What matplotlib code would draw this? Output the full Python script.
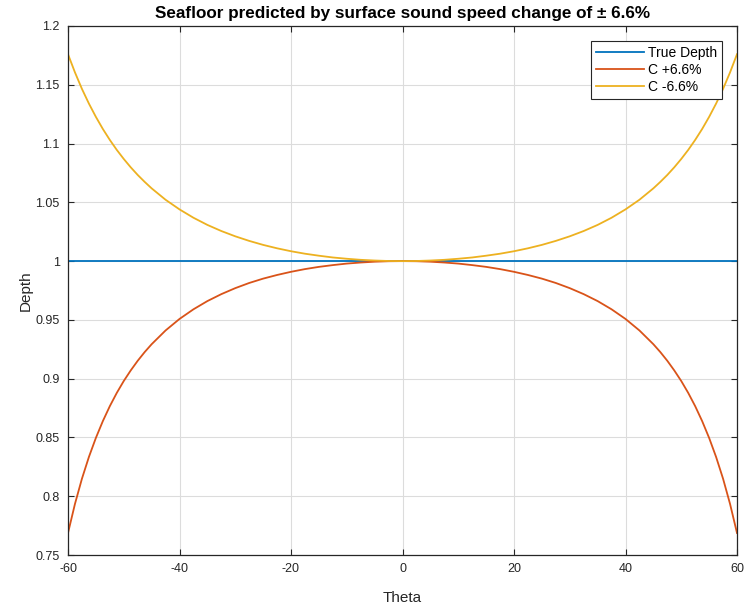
import matplotlib
matplotlib.use("Agg")
import matplotlib.pyplot as plt

# angle grid (deg) and predicted depth ratios
theta = [-60, -58.75, -57.5, -56.25, -55, -53.75, -52.5, -51.25, -50, -48.75, -47.5,
         -46.25, -45, -42.5, -40, -37.5, -35, -32.5, -30, -27.5, -25, -22.5, -20,
         -17.5, -15, -12.5, -10, -7.5, -5, -2.5,
         0, 2.5, 5, 7.5, 10, 12.5, 15, 17.5, 20, 22.5, 25, 27.5, 30, 32.5, 35,
         37.5, 40, 42.5, 45, 46.25, 47.5, 48.75, 50, 51.25, 52.5, 53.75, 55,
         56.25, 57.5, 58.75, 60]

true_depth = [1.0] * len(theta)

c_plus = [0.7687, 0.7935, 0.8149, 0.8334, 0.8496, 0.8639, 0.8766, 0.8879, 0.8980,
          0.9070, 0.9152, 0.9226, 0.9293, 0.9410, 0.9508, 0.9590, 0.9660, 0.9719,
          0.9770, 0.9814, 0.9851, 0.9882, 0.9909, 0.9932, 0.9951, 0.9966, 0.9979,
          0.9988, 0.9995, 0.9999,
          1.0,
          0.9999, 0.9995, 0.9988, 0.9979, 0.9966, 0.9951, 0.9932, 0.9909, 0.9882,
          0.9851, 0.9814, 0.9770, 0.9719, 0.9660, 0.9590, 0.9508, 0.9410, 0.9293,
          0.9226, 0.9152, 0.9070, 0.8980, 0.8879, 0.8766, 0.8639, 0.8496, 0.8334,
          0.8149, 0.7935, 0.7687]

c_minus = [1.1760, 1.1605, 1.1465, 1.1340, 1.1227, 1.1124, 1.1031, 1.0946, 1.0869,
           1.0798, 1.0733, 1.0674, 1.0619, 1.0522, 1.0440, 1.0369, 1.0308, 1.0256,
           1.0211, 1.0172, 1.0138, 1.0109, 1.0084, 1.0063, 1.0046, 1.0031, 1.0020,
           1.0011, 1.0005, 1.0001,
           1.0,
           1.0001, 1.0005, 1.0011, 1.0020, 1.0031, 1.0046, 1.0063, 1.0084, 1.0109,
           1.0138, 1.0172, 1.0211, 1.0256, 1.0308, 1.0369, 1.0440, 1.0522, 1.0619,
           1.0674, 1.0733, 1.0798, 1.0869, 1.0946, 1.1031, 1.1124, 1.1227, 1.1340,
           1.1465, 1.1605, 1.1760]

labels = ["True Depth", "C +6.6%", "C -6.6%"]
colors = ["#0072BD", "#D95319", "#EDB120"]
x_ticks = [-60, -40, -20, 0, 20, 40, 60]
y_ticks = [0.75, 0.8, 0.85, 0.9, 0.95, 1, 1.05, 1.1, 1.15, 1.2]
y_ticklabels = ["0.75", "0.8", "0.85", "0.9", "0.95", "1", "1.05", "1.1", "1.15", "1.2"]

plt.rcParams['font.family'] = ['Liberation Sans', 'DejaVu Sans']
dark = '#262626'

fig = plt.figure(figsize=(7.47, 6.06), dpi=100)
ax = fig.add_axes([68 / 747, 51 / 606, 669 / 747, 529 / 606])

for series, lab, col in zip([true_depth, c_plus, c_minus], labels, colors):
    ax.plot(theta, series, color=col, linewidth=1.3, label=lab)

ax.set_xlim(-60, 60); ax.set_ylim(0.75, 1.2)
ax.set_xticks(x_ticks); ax.set_xticklabels([str(t) for t in x_ticks])
ax.set_yticks(y_ticks); ax.set_yticklabels(y_ticklabels)
ax.grid(True, color='#dcdcdc', linewidth=0.8)
ax.set_axisbelow(True)
ax.tick_params(direction='in', top=True, right=True, length=4, width=0.8,
               colors=dark, labelsize=9, pad=6)
for sp in ax.spines.values():
    sp.set_color(dark); sp.set_linewidth(0.9)

ax.set_xlabel("Theta", fontsize=11, color=dark, labelpad=11)
ax.set_ylabel("Depth", fontsize=11, color=dark, labelpad=2)
ax.set_title("Seafloor predicted by surface sound speed change of \u00b1 6.6%",
             fontsize=12.3, fontweight='bold', color='black', pad=6)

leg = ax.legend(loc='upper right', fontsize=10, fancybox=False, framealpha=1,
                edgecolor=dark, handlelength=3.4, borderaxespad=1.05,
                labelspacing=0.2, handletextpad=0.3, borderpad=0.4)
leg.get_frame().set_linewidth(0.8)

plt.savefig("out.png", dpi=100)
